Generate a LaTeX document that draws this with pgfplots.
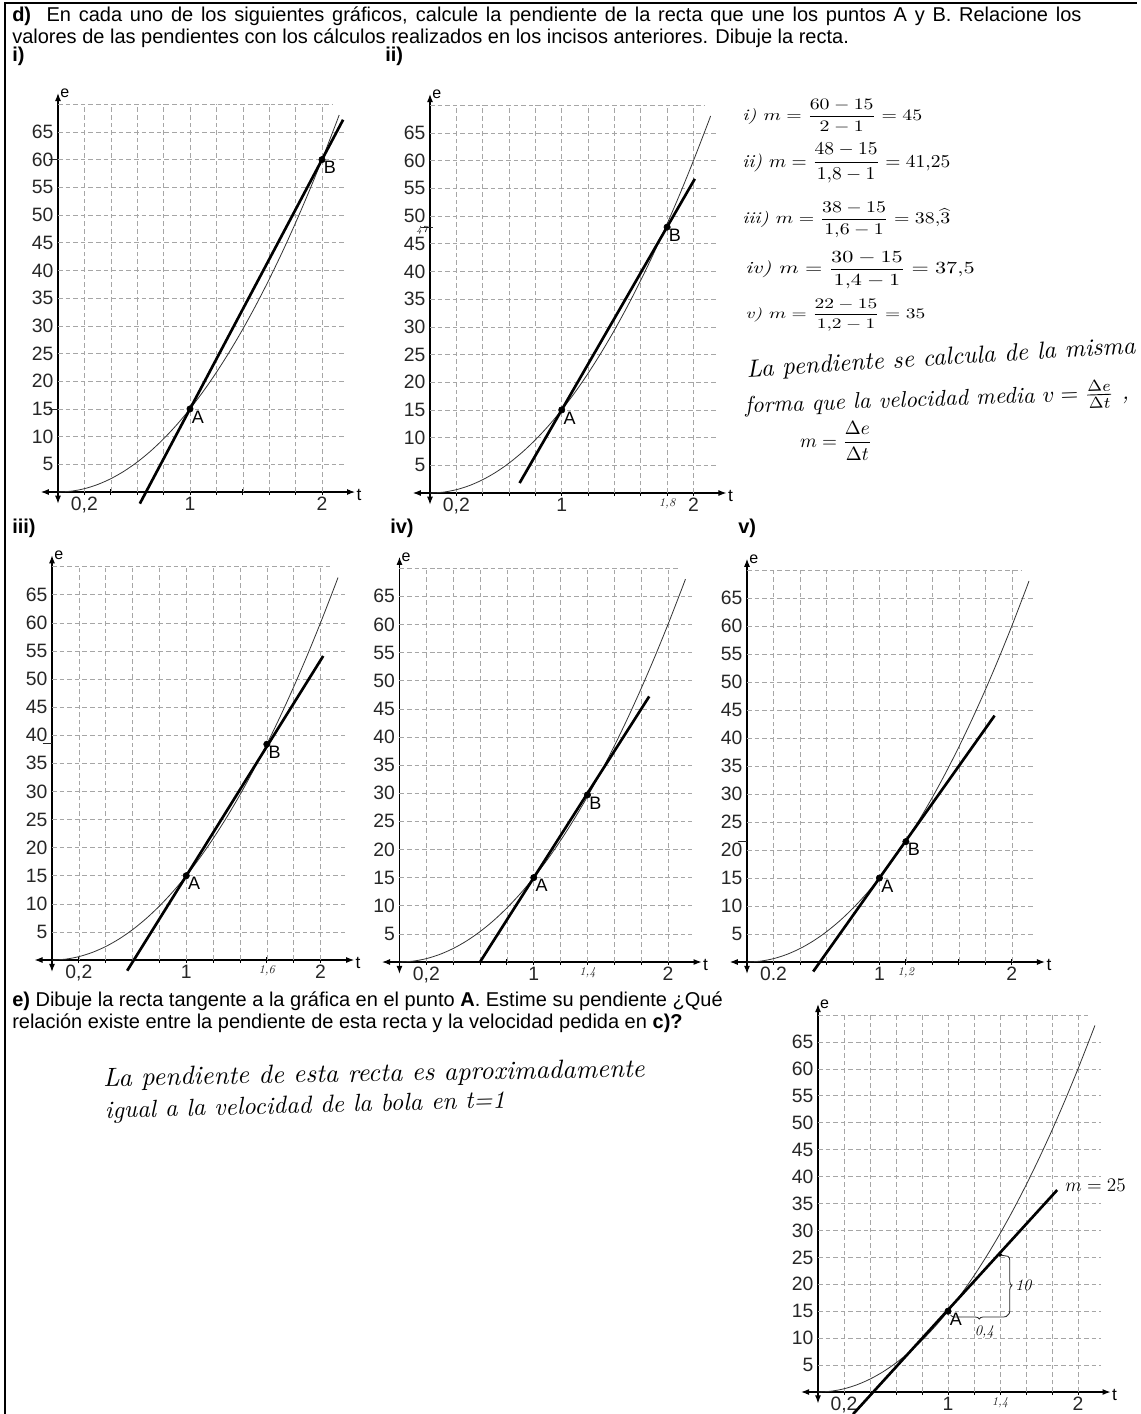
\documentclass[border=0pt]{standalone}
\usepackage{amsmath}
\usepackage{fontspec}
\setmainfont{Liberation Sans}
\usepackage{pgfplots}
\usepackage{pgfplotstable}
\pgfplotsset{compat=1.18}
\usetikzlibrary{arrows.meta,decorations.pathreplacing}

% handwriting stand-in
\newcommand\hand{\fontfamily{lmr}\fontshape{it}\selectfont}
\newcommand\hl[1]{{\hand\fontsize{9}{9}\selectfont #1}}

% e(t)
\pgfplotstableread{
t e
0 0
0.1 0.15
0.2 0.6
0.3 1.35
0.4 2.4
0.5 3.75
0.6 5.4
0.7 7.35
0.8 9.6
0.9 12.15
1.0 15
1.1 18.15
1.2 21.6
1.3 25.35
1.4 29.4
1.5 33.75
1.6 38.4
1.7 43.35
1.8 48.6
1.9 54.15
2.0 60
2.1 66.15
2.13 68.05
}\curve

\tikzset{
  gridline/.style={black!35, line width=0.45pt, dash pattern=on 3.5pt off 2.2pt},
  lbl/.style={anchor=north west, inner sep=1.2pt, font=\fontsize{13.5}{13.5}\selectfont},
  hw/.style={black!85, line width=0.6pt},
}

\pgfplotsset{
  sheet/.style={
    anchor=origin, clip=false,
    axis lines=middle,
    axis line style={line width=0.8pt, {Latex[length=6pt,width=4.5pt]}-{Latex[length=6pt,width=4.5pt]}},
    xmin=-0.13, xmax=2.25, ymin=-2.1, ymax=72,
    xtick={0.2,0.4,0.6,0.8,1,1.2,1.4,1.6,1.8,2},
    ytick={5,10,15,20,25,30,35,40,45,50,55,60,65},
    yticklabels={5,10,15,20,25,30,35,40,45,50,55,60,65},
    tick align=center, major tick length=4.5pt,
    xtick style={black, line width=0.6pt},
    ytick style={draw=none},
    tick label style={font=\fontsize{14.5}{14.5}\selectfont, text=black!85},
    yticklabel style={inner sep=1pt},
    xticklabel style={inner sep=1.5pt},
  },
}

\newcommand\sheetgrid{%
  \pgfplotsinvokeforeach{5,10,15,20,25,30,35,40,45,50,55,60,65}{\draw[gridline] (axis cs:0,##1) -- (axis cs:2.18,##1);}%
  \draw[gridline] (axis cs:0,70) -- (axis cs:2.08,70);%
  \pgfplotsinvokeforeach{0.2,0.4,0.6,0.8,1,1.2,1.4,1.6,1.8,2}{\draw[gridline] (axis cs:##1,0) -- (axis cs:##1,70);}%
  \addplot[black!80, line width=0.6pt, smooth] table {\curve};%
  \node[anchor=south west, inner sep=0.5pt, font=\fontsize{12}{12}\selectfont] at (axis cs:0.01,71) {e};%
  \node[anchor=west, inner sep=1pt, font=\fontsize{13}{13}\selectfont] at (axis cs:2.25,-0.6) {t};%
}

\begin{document}
\begin{tikzpicture}
\path[use as bounding box] (0,0) rectangle (855.75pt,-1060.5pt);

% ---------- i)
\begin{axis}[sheet, at={(43.5pt,-369pt)}, x=99pt, y=4.155pt,
  xticklabels={0{,}2,,,,1,,,,,2}]
\sheetgrid
\addplot[black, line width=2pt] coordinates {(0.62,-2.1) (2.16,67.2)};
\addplot[only marks, mark=*, mark size=2.4pt, black] coordinates {(1,15) (2,60)};
\node[lbl] at (axis cs:1,15) {A};
\node[lbl] at (axis cs:2,60) {B};
\draw[hw] (axis cs:-0.07,15) -- (axis cs:0,15);
\draw[hw] (axis cs:-0.07,60) -- (axis cs:0,60);
\end{axis}

% ---------- ii)
\begin{axis}[sheet, at={(322.5pt,-369.75pt)}, x=98.8pt, y=4.155pt,
  xticklabels={0{,}2,,,,1,,,,\hl{1,8},2}]
\sheetgrid
\addplot[black, line width=2pt] coordinates {(0.68,1.8) (2.01,56.7)};
\addplot[only marks, mark=*, mark size=2.4pt, black] coordinates {(1,15) (1.8,48)};
\node[lbl] at (axis cs:1,15) {A};
\node[lbl] at (axis cs:1.8,48) {B};
\draw[hw] (axis cs:-0.07,48) -- (axis cs:0.02,48);
\node[anchor=east, inner sep=0.5pt] at (axis cs:-0.01,47.4) {{\hand\fontsize{7}{7}\selectfont 47}};
\end{axis}

% ---------- iii)
\begin{axis}[sheet, at={(39pt,-720pt)}, x=100.7pt, y=4.215pt,
  xticklabels={0{,}2,,,,1,,,\hl{1,6},,2}]
\sheetgrid
\addplot[black, line width=2pt] coordinates {(0.56,-1.9) (2.02,54.1)};
\addplot[only marks, mark=*, mark size=2.4pt, black] coordinates {(1,15) (1.6,38.4)};
\node[lbl] at (axis cs:1,15) {A};
\node[lbl] at (axis cs:1.6,38.4) {B};
\draw[hw] (axis cs:-0.07,38.6) -- (axis cs:0,38.6);
\end{axis}

% ---------- iv)
\begin{axis}[sheet, at={(299.6pt,-721.5pt)}, x=100.7pt, y=4.22pt,
  xticklabels={0{,}2,,,,1,,\hl{1,4},,,2}]
\sheetgrid
\addplot[black, line width=2pt] coordinates {(0.6,0) (1.86,47.2)};
\addplot[only marks, mark=*, mark size=2.4pt, black] coordinates {(1,15) (1.4,29.7)};
\node[lbl] at (axis cs:1,15) {A};
\node[lbl] at (axis cs:1.4,29.7) {B};
\end{axis}

% ---------- v)
\begin{axis}[sheet, at={(560.25pt,-721.5pt)}, x=99.3pt, y=4.2pt,
  xticklabels={0.2,,,,1,\hl{1,2},,,,2}]
\sheetgrid
\addplot[black, line width=2pt] coordinates {(0.5,-1.7) (1.87,44)};
\addplot[only marks, mark=*, mark size=2.4pt, black] coordinates {(1,15) (1.2,21.5)};
\node[lbl] at (axis cs:1,15) {A};
\node[lbl] at (axis cs:1.2,21.5) {B};
\draw[hw] (axis cs:-0.07,21.5) -- (axis cs:0,21.5);
\end{axis}

% ---------- e)
\begin{axis}[sheet, at={(613.5pt,-1044pt)}, x=97.5pt, y=4.04pt,
  xticklabels={0{,}2,,,,1,,\hl{1,4},,,2}]
\sheetgrid
\addplot[black, line width=2pt] coordinates {(0.27,-4.1) (1.84,37.5)};
\addplot[only marks, mark=*, mark size=2.4pt, black] coordinates {(1,15)};
\addplot[only marks, mark=*, mark size=1.4pt, black] coordinates {(1.4,25.5)};
\node[lbl] at (axis cs:1,15) {A};
\draw[hw, decorate, decoration={brace, mirror, amplitude=3pt}] (axis cs:1.02,14.3) -- (axis cs:1.46,14.3);
\draw[hw, decorate, decoration={brace, mirror, amplitude=3pt}] (axis cs:1.46,14.3) -- (axis cs:1.46,25.2);
\draw[hw] (axis cs:1.46,25.2) -- (axis cs:1.41,25.4);
\node[inner sep=0] at (axis cs:1.58,19.8) {\hand\fontsize{12}{12}\selectfont 10};
\node[inner sep=0] at (axis cs:1.28,11.2) {\hand\fontsize{11}{11}\selectfont 0,4};
\node[anchor=west, inner sep=0] at (axis cs:1.9,38.3) {\hand\fontsize{14}{14}\selectfont $m=25$};
\end{axis}

% ---------- page text
\begin{scope}[x=0.75pt,y=-0.75pt]
\draw[line width=1.4pt] (5,1414) -- (5,3) -- (1137,3);
\node[anchor=base west, inner sep=0] at (12,21) {\fontsize{15}{18}\selectfont\makebox[802pt][s]{\textbf{d)}\ \ En cada uno de los siguientes gráficos, calcule la pendiente de la recta que une los puntos A y B. Relacione los}};
\node[anchor=base west, inner sep=0] at (12,43) {\fontsize{15}{18}\selectfont valores de las pendientes con los cálculos realizados en los incisos anteriores. Dibuje la recta.};
\node[anchor=base west, inner sep=0] at (12,61) {\fontsize{15}{18}\selectfont\bfseries i)};
\node[anchor=base west, inner sep=0] at (385,61) {\fontsize{15}{18}\selectfont\bfseries ii)};
\node[anchor=base west, inner sep=0] at (12,533) {\fontsize{15}{18}\selectfont\bfseries iii)};
\node[anchor=base west, inner sep=0] at (390,533) {\fontsize{15}{18}\selectfont\bfseries iv)};
\node[anchor=base west, inner sep=0] at (738,533) {\fontsize{15}{18}\selectfont\bfseries v)};
\node[anchor=base west, inner sep=0] at (12,1006) {\fontsize{15}{18}\selectfont\textbf{e)} Dibuje la recta tangente a la gráfica en el punto \textbf{A}. Estime su pendiente ¿Qué};
\node[anchor=base west, inner sep=0] at (12,1028) {\fontsize{15}{18}\selectfont relación existe entre la pendiente de esta recta y la velocidad pedida en \textbf{c)?}};

% handwritten notes
\node[anchor=west, inner sep=0] at (742,116) {\resizebox*{135pt}{25pt}{\hand i) $m=\dfrac{60-15}{2-1}=45$}};
\node[anchor=west, inner sep=0] at (742,163) {\resizebox*{156pt}{30pt}{\hand ii) $m=\dfrac{48-15}{1{,}8-1}=41{,}25$}};
\node[anchor=west, inner sep=0] at (742,220) {\resizebox*{156pt}{27pt}{\hand iii) $m=\dfrac{38-15}{1{,}6-1}=38{,}\widehat{3}$}};
\node[anchor=west, inner sep=0] at (745,270) {\resizebox*{172pt}{28pt}{\hand iv) $m=\dfrac{30-15}{1{,}4-1}=37{,}5$}};
\node[anchor=west, inner sep=0] at (745,315) {\resizebox*{135pt}{24pt}{\hand v) $m=\dfrac{22-15}{1{,}2-1}=35$}};
\node[rotate=3.5, inner sep=0] at (941,359) {\resizebox{292pt}{!}{\hand La pendiente se calcula de la misma}};
\node[rotate=2, inner sep=0] at (937,400) {\resizebox{288pt}{!}{\hand forma que la velocidad media $v=\frac{\Delta e}{\Delta t}$ ,}};
\node[inner sep=0] at (836,441) {\resizebox{54pt}{!}{\hand $m=\dfrac{\Delta e}{\Delta t}$}};
\node[rotate=1, inner sep=0] at (374,1075) {\resizebox{406pt}{!}{\hand La pendiente de esta recta es aproximadamente}};
\node[rotate=1.5, inner sep=0] at (305,1107) {\resizebox{300pt}{!}{\hand igual a la velocidad de la bola en t=1}};
\end{scope}
\end{tikzpicture}
\end{document}
